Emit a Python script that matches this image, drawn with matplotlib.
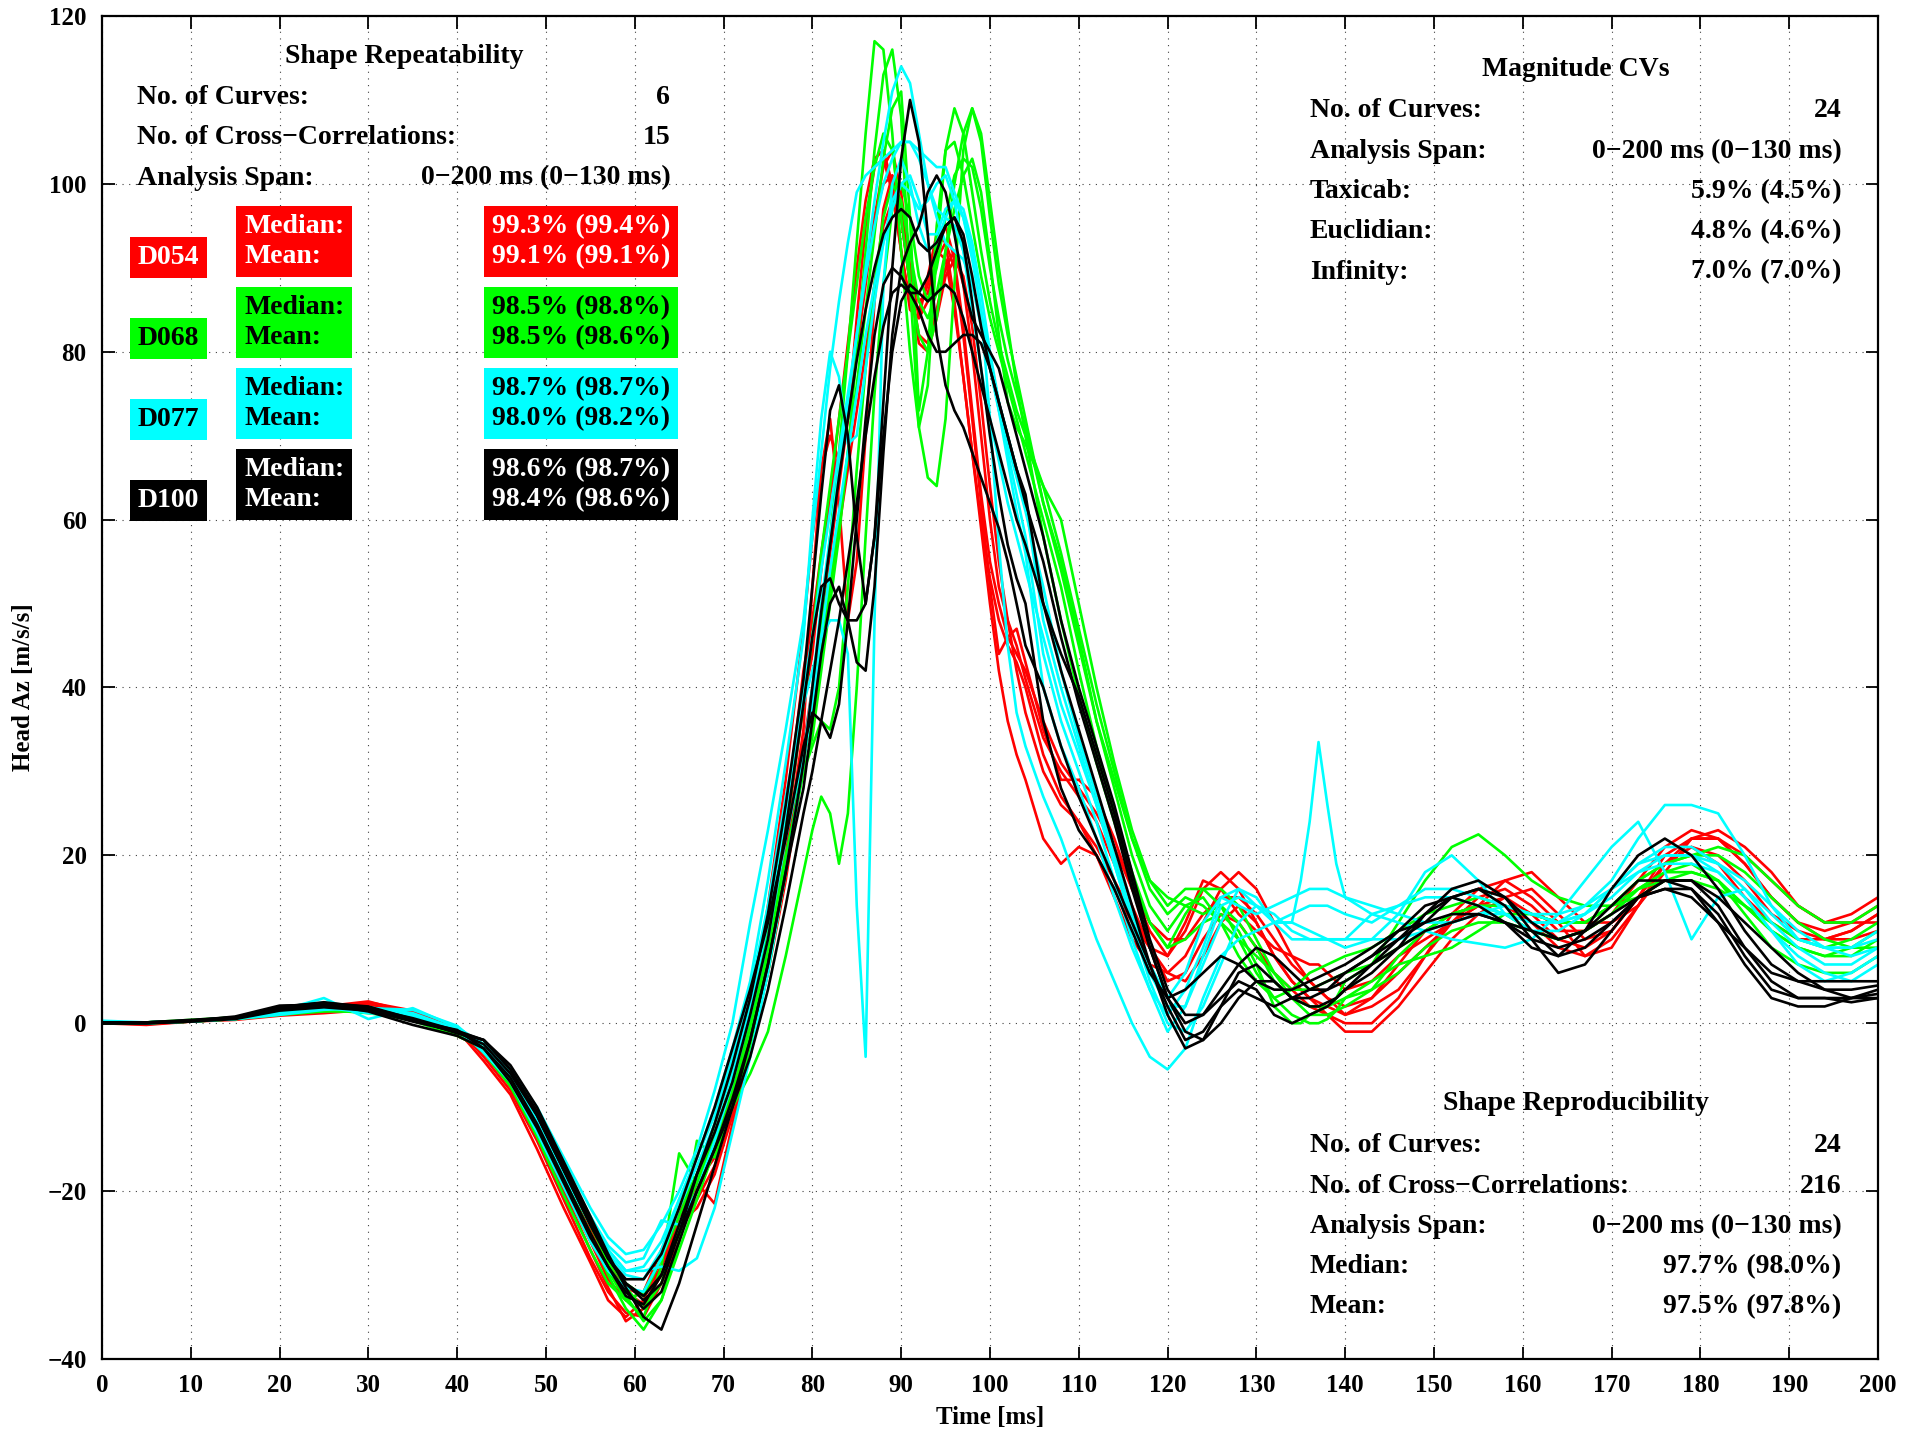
import matplotlib
matplotlib.use("Agg")
import matplotlib.pyplot as plt

# Head Az traces, 6 tests per dummy, sampled at the times below
time_ms = [0, 5, 10, 15, 20, 25, 30, 35, 40,
           43, 46, 49, 52, 55, 57, 59, 61, 63, 65, 67, 69, 71, 73, 75, 77, 79,
           80, 81, 82, 83, 84, 85, 86, 87, 88, 89, 90, 91, 92, 93, 94, 95, 96,
           97, 98, 99, 100, 101, 102, 103, 104,
           106, 108, 110, 112, 114, 116, 118, 120, 122, 124, 126, 128, 130, 132,
           134, 135, 136, 137, 138, 139, 140,
           143, 146, 149, 152, 155, 158, 161, 164, 167, 170, 173, 176, 179, 182,
           185, 188, 191, 194, 197, 200]

D054 = [
    [0, -0.2, 0.2, 0.5, 1.2, 2.0, 2.3, 1.0, -1.0,
     -3.5, -7.5, -13, -20, -27, -31.5, -35.5, -34, -29, -24, -20, -15, -8, -1, 9, 22, 38,
     44, 54, 63, 72, 81, 90, 98, 103, 104, 100, 92, 85, 84, 89, 94, 93, 86, 77, 68, 60, 53, 48, 45, 43, 40,
     32, 27, 24, 20, 15, 10, 7, 6, 8, 12, 16, 18, 16, 12, 8, 6.5, 5, 4, 3, 2, 1,
     2, 4, 8, 12, 15, 16, 14, 11, 11, 13, 17, 21, 23, 22, 19, 15, 12, 10, 11, 13],
    [0.2, 0, 0.3, 0.6, 1.0, 1.8, 2.5, 1.5, -0.5,
     -4, -8, -14, -21, -28, -32, -34.5, -35, -31, -26, -19, -21.5, -12, -3, 7, 19, 33,
     40, 48, 56, 64, 72, 80, 88, 96, 102, 104, 99, 90, 84, 86, 92, 95, 91, 83, 73, 63, 55, 50, 46, 44, 42,
     36, 31, 28, 25, 21, 16, 12, 10, 10, 13, 15, 15, 13, 10, 7, 6, 5, 4, 3, 2.5, 2,
     3, 6, 9, 12, 14, 15, 13, 10, 9, 11, 15, 20, 22, 22, 20, 17, 14, 12, 13, 15],
    [0, 0.1, 0.2, 0.4, 0.9, 1.2, 1.6, 1.2, -1.5,
     -3, -6.5, -12, -18.5, -25, -29, -32, -33.5, -30, -25, -21, -17, -10, -2, 8, 20, 35,
     52, 66, 72, 62, 48, 55, 70, 86, 97, 101, 96, 88, 82, 81, 85, 90, 92, 88, 80, 70, 60, 52, 48, 45, 41,
     34, 30, 27, 24, 19, 14, 9, 5, 6, 10, 13, 12, 9, 6, 4, 3, 2, 1.5, 1, 0, -1,
     -1, 2, 6, 10, 13, 15, 16, 13, 10, 11, 15, 19, 21, 20, 17, 13, 11, 10, 10, 11],
    [0.1, 0, 0.3, 0.7, 1.4, 2.2, 2.0, 0.8, -1.2,
     -3.5, -7, -12.5, -19.5, -26, -30.5, -33, -32, -27, -22.5, -19, -16, -9, 0, 11, 24, 42,
     48, 56, 63, 68, 72, 80, 89, 96, 100, 101, 97, 90, 86, 87, 91, 93, 90, 82, 72, 62, 52, 44, 46, 47, 43,
     35, 29, 29, 27, 22, 16, 11, 8, 12, 17, 16, 13, 11, 9, 8, 7.5, 7, 7, 6, 5, 4,
     5, 8, 10, 12, 14, 17, 18, 15, 12, 12, 14, 18, 22, 23, 21, 18, 14, 12, 12, 12],
    [0, -0.1, 0.2, 0.5, 1.1, 1.5, 1.8, 1.4, -0.8,
     -4.5, -8.5, -15, -22, -28.5, -33, -35, -33, -28, -24, -22, -18, -11, -3, 6, 17, 31,
     38, 45, 52, 59, 66, 73, 80, 88, 95, 98, 96, 88, 81, 80, 84, 89, 91, 89, 83, 74, 64, 55, 48, 42, 37,
     30, 26, 24, 21, 17, 13, 9, 6, 5, 8, 12, 14, 12, 8, 5, 4, 3, 2, 1, 0.5, 0,
     0, 3, 8, 13, 16, 17, 15, 12, 8, 9, 14, 19, 21, 19, 15, 12, 10, 10, 11, 13],
    [0.1, 0, 0.2, 0.6, 1.3, 2.0, 2.6, 1.2, -1.0,
     -3, -6, -11.5, -18, -24.5, -28.5, -31.5, -32.5, -29, -23, -20, -14, -7, 2, 14, 29, 47,
     58, 66, 70, 67, 72, 84, 95, 102, 103, 99, 92, 86, 85, 88, 92, 91, 85, 77, 68, 59, 50, 42, 36, 32, 29,
     22, 19, 21, 20, 16, 12, 9, 8, 11, 16, 18, 16, 12, 8, 5, 4, 3, 2.5, 2, 1.5, 1,
     3, 7, 11, 13, 14, 14, 12, 9, 8, 10, 14, 19, 22, 22, 19, 15, 12, 11, 12, 14],
]

D068 = [
    [0, 0, 0.3, 0.6, 1.3, 1.6, 1.2, 0.5, -1.2,
     -2.5, -6, -11, -17.5, -24, -28.5, -32.5, -35.5, -33, -27, -21, -15, -9, -2, 7, 18, 31,
     38, 48, 58, 68, 80, 93, 106, 117, 116, 106, 92, 80, 71, 65, 64, 72, 88, 104, 109, 105, 96, 88, 82, 77, 72,
     62, 54, 45, 36, 28, 20, 14, 11, 14, 15, 12, 8, 5, 3, 4, 5, 6, 6.5, 7, 7.5, 8,
     9, 11, 13, 14, 15, 14, 13, 12, 12, 14, 17, 19, 20, 21, 20, 17, 14, 12, 12, 14],
    [0.1, 0.1, 0.3, 0.5, 1.0, 1.4, 1.5, 0.8, -0.8,
     -3, -7, -12.5, -19, -25.5, -29.5, -33, -35, -29, -15.5, -19, -13, -7, 0, 9, 20, 30,
     34, 42, 50, 58, 68, 80, 92, 104, 113, 116, 108, 88, 71, 76, 92, 104, 109, 106, 99, 92, 86, 81, 77, 73, 70,
     64, 56, 47, 38, 30, 22, 16, 13, 15, 14, 12, 10, 8, 6, 4, 4, 4, 4.5, 5, 5.5, 6,
     7, 9, 11, 13, 14, 13, 11, 10, 11, 13, 16, 18, 18, 17, 14, 11, 9, 8, 9, 11],
    [0, 0, 0.2, 0.5, 1.4, 1.8, 1.4, 0.3, -1.5,
     -3, -6.5, -12, -18.5, -25, -30, -34, -36.5, -33, -26, -14, -16, -10, -3, 6, 18, 32,
     36, 44, 52, 60, 68, 76, 85, 94, 103, 109, 111, 96, 73, 80, 95, 104, 105, 101, 95, 89, 84, 80, 76, 72, 68,
     60, 52, 42, 33, 25, 18, 12, 9, 10, 12, 13, 11, 7, 2, 0, 0, 1, 1.5, 2, 3, 5,
     7, 12, 17, 21, 22.5, 20, 17, 15, 14, 14, 15, 17, 18, 17, 14, 11, 9, 8, 8, 10],
    [0, 0.1, 0.4, 0.7, 1.6, 2.0, 1.7, 0.6, -1.0,
     -2.5, -6, -11, -17, -23.5, -28, -31, -32.5, -28, -22, -18, -14, -10, -6, -1, 8, 18,
     23, 27, 25, 19, 25, 40, 58, 75, 88, 97, 100, 96, 89, 86, 90, 96, 101, 103, 102, 97, 90, 84, 79, 75, 71,
     62, 55, 46, 36, 29, 22, 17, 15, 14, 13, 14, 12, 9, 5, 3, 2.5, 2, 2, 2, 2.5, 3,
     4, 6, 9, 11, 12, 12, 11, 10, 11, 13, 16, 18, 19, 17, 13, 9, 7, 6, 6, 8],
    [0.1, 0, 0.2, 0.5, 1.2, 1.5, 1.3, 0.9, -0.6,
     -3.5, -7.5, -13.5, -20.5, -27, -31, -33, -32, -28, -23, -18, -12, -5, 2, 11, 23, 38,
     46, 56, 64, 72, 80, 88, 96, 102, 106, 104, 96, 88, 82, 80, 84, 92, 100, 106, 109, 106, 98, 90, 83, 76, 70,
     58, 48, 39, 31, 24, 17, 12, 9, 13, 16, 16, 14, 10, 6, 3, 2, 1, 1, 1, 1.5, 2,
     4, 8, 11, 13, 14, 14, 13, 12, 12, 14, 17, 19, 20, 20, 18, 15, 12, 10, 9, 9],
    [0, 0.1, 0.3, 0.6, 1.5, 1.9, 1.6, 0.7, -1.3,
     -3, -6.5, -12, -18, -24, -28, -31.5, -34, -31, -24, -19, -14, -8, -1, 8, 19, 30,
     33, 36, 35, 40, 52, 66, 78, 88, 96, 100, 98, 92, 86, 84, 87, 92, 97, 101, 103, 99, 91, 82, 74, 71, 69,
     64, 60, 50, 40, 31, 23, 17, 14, 16, 16, 14, 10, 6, 3, 1, 0.5, 0, 0, 0.5, 1.5, 3,
     5, 7, 8, 9, 11, 13, 13, 12, 12, 14, 16, 17, 17, 16, 14, 12, 10, 9, 10, 12],
]

D077 = [
    [0.3, 0.1, 0.3, 0.7, 1.5, 3.0, 0.5, 1.8, -0.5,
     -2.5, -5.5, -10, -16, -22, -25.5, -27.5, -27, -24, -20, -15, -8, 0, 12, 23, 35, 48,
     58, 68, 78, 86, 93, 99, 101, 102, 103, 104, 105, 105, 104, 103, 102, 102, 99, 96, 92, 85, 72, 57, 45, 37, 33,
     27, 22, 16, 10, 5, 0, -4, -5.5, -3, 3, 8, 10, 11, 12, 13, 13.5, 14, 14, 14, 13.5, 13,
     12, 14, 16, 16, 15, 14, 13, 12, 13, 16, 19, 20, 20, 18, 15, 11, 7, 5, 6, 8],
    [0.2, 0, 0.3, 0.6, 1.3, 2.2, 1.5, 1.0, -0.8,
     -3, -6, -11, -17, -23, -26.5, -28.5, -28, -23.5, -24, -20, -14, -7, 1, 10, 22, 32,
     40, 50, 58, 66, 74, 82, 90, 98, 105, 111, 114, 112, 106, 100, 97, 96, 95, 92, 88, 83, 78, 73, 69, 65, 61,
     52, 42, 34, 27, 20, 13, 7, 3, 6, 12, 15, 14, 13, 14, 15, 15.5, 16, 16, 16, 15.5, 15,
     14, 13, 12, 12, 13, 14, 13, 13, 14, 17, 22, 26, 26, 25, 20, 14, 10, 9, 9, 10],
    [0.1, 0.1, 0.2, 0.5, 1.0, 1.6, 1.8, 1.6, -0.3,
     -3, -6, -11, -17.5, -23.5, -27, -29.5, -29, -26, -21, -16, -10, -3, 5, 17, 31, 46,
     60, 72, 80, 77, 69, 70, 78, 86, 93, 98, 100, 99, 97, 98, 100, 101, 98, 92, 85, 78, 72, 67, 62, 58, 54,
     46, 38, 32, 26, 19, 12, 6, 2, 2, 7, 12, 16, 15, 12, 12, 17, 24, 33.5, 26, 19, 15,
     13, 12, 11, 10, 9.5, 9, 10, 13, 17, 21, 24, 18, 10, 15, 16, 13, 10, 9, 9, 11],
    [0.2, 0, 0.2, 0.6, 1.4, 1.9, 1.2, 0.8, -0.6,
     -3.5, -7, -13, -19.5, -26, -29.5, -31.5, -32, -28, -22, -17, -12, -6, 2, 12, 25, 40,
     46, 54, 61, 68, 75, 82, 89, 95, 100, 103, 105, 105, 103, 100, 96, 93, 92, 91, 88, 84, 79, 74, 70, 66, 62,
     48, 40, 33, 26, 19, 12, 5, 0, -1, 2, 7, 12, 14, 13, 11, 10.5, 10, 10, 10, 10, 10,
     10, 13, 18, 20, 17, 13, 11, 11, 13, 16, 19, 21, 21, 19, 16, 12, 9, 7, 7, 9],
    [0.1, 0.1, 0.3, 0.7, 1.7, 2.5, 1.4, 0.5, -1.0,
     -3, -6, -11.5, -18, -24, -27.5, -30, -30.5, -27, -21, -16, -11, -4, 4, 14, 27, 38,
     42, 46, 48, 48, 44, 14, -4, 48, 88, 100, 103, 100, 95, 92, 93, 96, 98, 97, 93, 87, 80, 74, 68, 63, 58,
     44, 36, 30, 24, 17, 10, 4, -1, 2, 8, 14, 15, 14, 12, 10, 10, 10, 10, 10, 10, 10,
     13, 14, 15, 15, 14, 13, 12, 12, 14, 16, 18, 19, 19, 18, 15, 11, 8, 6, 5, 7],
    [0.2, 0, 0.3, 0.5, 1.2, 1.7, 1.9, 1.2, -0.7,
     -2.5, -5.5, -10.5, -17, -23.5, -27, -29.5, -29.5, -29, -29.5, -28, -22, -13, -4, 6, 18, 31,
     38, 46, 54, 61, 68, 75, 82, 88, 93, 97, 100, 101, 98, 94, 94, 97, 98, 96, 91, 85, 79, 73, 67, 61, 56,
     40, 33, 28, 22, 15, 9, 4, 1, 4, 9, 15, 16, 14, 12, 12, 11.5, 11, 10.5, 10, 9.5, 9,
     10, 10, 11, 12, 13, 13, 12, 12, 13, 15, 18, 20, 20, 19, 17, 14, 11, 9, 8, 9],
]

D100 = [
    [0, 0.1, 0.3, 0.7, 2.0, 2.4, 2.0, 0.5, -1.2,
     -2, -5.5, -10.5, -17, -23.5, -28, -31, -33, -31, -25, -18, -12, -5, 3, 13, 26, 41,
     52, 63, 73, 76, 70, 58, 50, 58, 74, 90, 103, 110, 105, 94, 82, 76, 73, 71, 68, 65, 62, 59, 55, 50, 45,
     40, 33, 27, 22, 17, 12, 7, 2, -2, -1, 2, 4, 3, 2, 3, 3.5, 4, 4.5, 5, 5.5, 6,
     8, 10, 12, 15, 16, 15, 12, 10, 11, 14, 17, 17, 16, 12, 7, 3, 2, 2, 3, 4],
    [0, 0, 0.3, 0.8, 2.1, 2.2, 1.6, 0.2, -1.0,
     -2, -5, -10, -16.5, -23, -27.5, -31.5, -35, -36.5, -31, -24, -17, -10, -2, 7, 18, 28,
     36, 44, 50, 52, 48, 43, 42, 52, 68, 82, 90, 93, 95, 99, 101, 99, 94, 88, 84, 82, 80, 78, 74, 70, 66,
     58, 48, 40, 33, 26, 18, 10, 4, 1, 1, 3, 5, 4, 1, 0, 0.5, 1, 1.5, 2, 3, 4,
     6, 9, 13, 16, 17, 15, 11, 8, 9, 12, 15, 16, 16, 13, 8, 4, 3, 3, 2.5, 3],
    [0.1, 0.1, 0.3, 0.6, 1.8, 2.0, 1.8, 0.6, -0.9,
     -2, -5.5, -11, -17.5, -24, -28, -30.5, -30.5, -27.5, -22, -16, -10, -3, 4, 12, 22, 33,
     37, 36, 34, 38, 48, 60, 72, 82, 88, 90, 89, 87, 87, 89, 92, 95, 96, 94, 89, 83, 78, 74, 70, 66, 62,
     55, 46, 38, 31, 24, 16, 9, 3, -1, -2, 0, 3, 5, 5, 3, 3, 3, 3.5, 4, 5, 6,
     8, 11, 14, 15, 14, 12, 9, 8, 11, 16, 20, 22, 20, 16, 11, 7, 5, 4, 4, 4.5],
    [0, 0, 0.2, 0.6, 1.6, 2.3, 1.4, -0.2, -1.5,
     -3, -7, -12.5, -19, -25.5, -29, -32, -34, -32, -26, -20, -15, -9, -2, 7, 18, 31,
     40, 49, 57, 65, 72, 79, 85, 90, 94, 96, 97, 96, 93, 92, 93, 95, 96, 93, 86, 78, 70, 63, 57, 53, 50,
     36, 28, 23, 20, 16, 11, 6, 3, 4, 6, 8, 7, 5, 4, 4, 4.5, 5, 5.5, 6, 6.5, 7,
     9, 11, 12, 13, 13, 12, 10, 9, 10, 12, 15, 17, 17, 14, 9, 5, 3, 3, 3, 3.5],
    [0.1, 0.1, 0.4, 0.7, 1.9, 2.5, 1.9, 0.4, -1.1,
     -2.5, -6, -11, -17.5, -24, -28, -31, -32.5, -30, -24, -18, -13, -7, 1, 10, 23, 38,
     46, 52, 53, 50, 48, 48, 50, 58, 70, 80, 86, 88, 87, 86, 87, 88, 87, 84, 80, 76, 72, 68, 64, 60, 57,
     50, 42, 35, 28, 21, 14, 7, 1, -3, -2, 2, 6, 7, 5, 3, 2.5, 2, 2, 2.5, 3, 4,
     7, 10, 13, 15, 16, 14, 10, 6, 7, 11, 15, 17, 17, 15, 12, 9, 6, 4, 3, 3],
    [0, 0, 0.2, 0.5, 1.5, 1.9, 1.5, 0.3, -0.8,
     -3, -6.5, -12, -18.5, -25, -29, -32.5, -33.5, -30, -25, -20, -15, -10, -4, 4, 14, 25,
     30, 36, 42, 48, 55, 62, 70, 77, 83, 87, 88, 87, 85, 82, 80, 80, 81, 82, 82, 81, 78, 74, 70, 66, 63,
     50, 44, 39, 32, 25, 17, 9, 3, 0, 1, 4, 7, 9, 8, 6, 5, 4, 4, 4, 4.5, 5,
     7, 9, 11, 12, 13, 12, 11, 10, 11, 13, 15, 16, 15, 12, 9, 6, 5, 5, 5, 5],
]

dummies = ["D054", "D068", "D077", "D100"]
line_colors = ["#ff0000", "#00ff00", "#00ffff", "#000000"]
text_colors = ["white", "black", "black", "white"]
medians = ["99.3% (99.4%)", "98.5% (98.8%)", "98.7% (98.7%)", "98.6% (98.7%)"]
means = ["99.1% (99.1%)", "98.5% (98.6%)", "98.0% (98.2%)", "98.4% (98.6%)"]

repeat_rows = [("No. of Curves:", "6"),
               ("No. of Cross\u2212Correlations:", "15"),
               ("Analysis Span:", "0\u2212200 ms (0\u2212130 ms)")]
cv_rows = [("No. of Curves:", "24"),
           ("Analysis Span:", "0\u2212200 ms (0\u2212130 ms)"),
           ("Taxicab:", "5.9% (4.5%)"),
           ("Euclidian:", "4.8% (4.6%)"),
           ("Infinity:", "7.0% (7.0%)")]
repro_rows = [("No. of Curves:", "24"),
              ("No. of Cross\u2212Correlations:", "216"),
              ("Analysis Span:", "0\u2212200 ms (0\u2212130 ms)"),
              ("Median:", "97.7% (98.0%)"),
              ("Mean:", "97.5% (97.8%)")]

plt.rcParams['font.family'] = ['Liberation Serif', 'DejaVu Serif']
plt.rcParams['font.weight'] = 'bold'
plt.rcParams['axes.labelweight'] = 'bold'

FS = 20
DY = -0.3  # small nudge so text rows sit like the original

fig = plt.figure(figsize=(19.23, 14.29), dpi=100)
ax = fig.add_axes([0.0530, 0.0490, 0.9236, 0.9398])

for curves, col in zip([D054, D068, D077, D100], line_colors):
    for y in curves:
        ax.plot(time_ms, y, color=col, lw=1.9, solid_joinstyle='round')

ax.set_xlim(0, 200)
ax.set_ylim(-40, 120)
ax.set_xticks(range(0, 201, 10))
ax.set_yticks(range(-40, 121, 20))
ax.grid(True, linestyle=(0, (1, 5)), color='0.25', lw=0.8)
ax.set_axisbelow(True)
ax.tick_params(direction='in', length=9, width=1.3, top=True, right=True,
               labelsize=18, pad=11)
for s in ax.spines.values():
    s.set_linewidth(1.6)
ax.set_xlabel("Time [ms]", fontsize=18, labelpad=6)
ax.set_ylabel("Head Az [m/s/s]", fontsize=18, labelpad=9)


def table(rows, x0, x1, y0, step, title, xt, yt):
    ax.text(xt, yt + DY, title, ha='center', va='center', fontsize=FS)
    for i, (lab, val) in enumerate(rows):
        y = y0 - i * step + DY
        ax.text(x0, y, lab, ha='left', va='center', fontsize=FS)
        ax.text(x1, y, val, ha='right', va='center', fontsize=FS)


# shape repeatability block (top left)
table(repeat_rows, 4, 64, 110.6, 4.8, "Shape Repeatability", 34, 115.5)
for i, name in enumerate(dummies):
    y_med = 95.3 - 9.63 * i + DY
    y_mean = y_med - 3.8
    box = dict(facecolor=line_colors[i], edgecolor='none', boxstyle='square,pad=0.28')
    ax.text(4, y_mean, name, ha='left', va='center', fontsize=FS,
            color=text_colors[i], bbox=box)
    ax.text(16, (y_med + y_mean) / 2, "Median:\nMean:", ha='left', va='center',
            fontsize=FS, color=text_colors[i], linespacing=1.27, bbox=box)
    ax.text(64, (y_med + y_mean) / 2, medians[i] + "\n" + means[i], ha='right',
            va='center', fontsize=FS, color=text_colors[i], linespacing=1.27,
            multialignment='left', bbox=box)

# magnitude CVs block (top right)
table(cv_rows, 136, 195.9, 109.0, 4.8, "Magnitude CVs", 166, 113.9)

# shape reproducibility block (bottom right)
table(repro_rows, 136, 195.9, -14.3, 4.8, "Shape Reproducibility", 166, -9.3)

fig.savefig("out.png", dpi=100)
